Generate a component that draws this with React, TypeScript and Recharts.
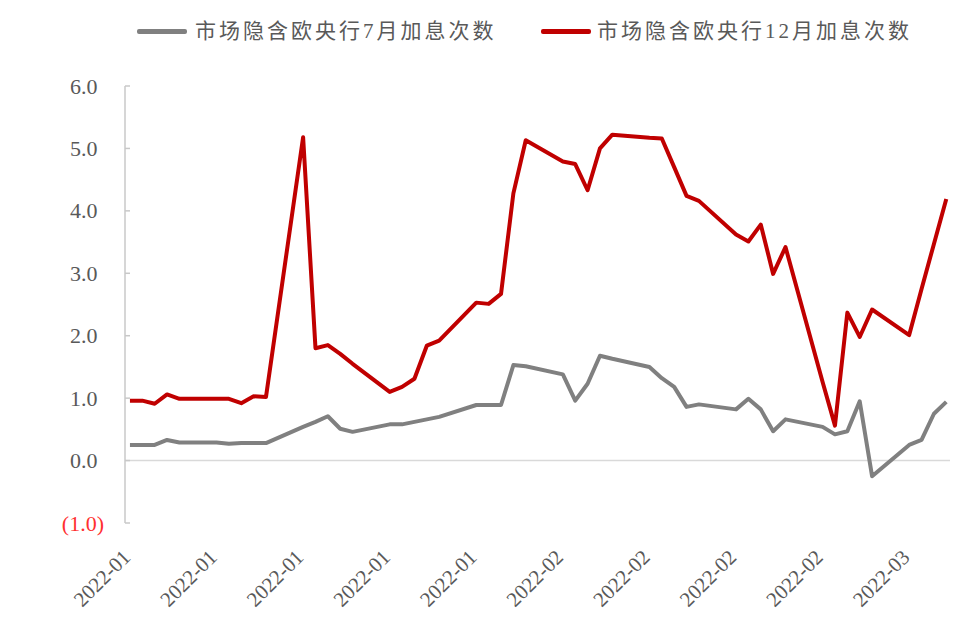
import React from "react";
import { LineChart, Line, XAxis, YAxis, ReferenceLine } from "recharts";

// trading days shown in the chart
const dates = [
  "2022-01-03", "2022-01-04", "2022-01-05", "2022-01-06", "2022-01-07",
  "2022-01-10", "2022-01-11", "2022-01-12", "2022-01-13", "2022-01-14",
  "2022-01-17", "2022-01-18", "2022-01-19", "2022-01-20", "2022-01-21",
  "2022-01-24", "2022-01-25", "2022-01-26", "2022-01-27", "2022-01-28",
  "2022-01-31", "2022-02-01", "2022-02-02", "2022-02-03", "2022-02-04",
  "2022-02-07", "2022-02-08", "2022-02-09", "2022-02-10", "2022-02-11",
  "2022-02-14", "2022-02-15", "2022-02-16", "2022-02-17", "2022-02-18",
  "2022-02-21", "2022-02-22", "2022-02-23", "2022-02-24", "2022-02-25",
  "2022-02-28", "2022-03-01", "2022-03-02", "2022-03-03", "2022-03-04",
  "2022-03-07", "2022-03-08", "2022-03-09", "2022-03-10",
];

const hikesJuly = [
  0.25, 0.25, 0.25, 0.33, 0.29,
  0.29, 0.27, 0.28, 0.28, 0.28,
  0.54, 0.62, 0.71, 0.51, 0.46,
  0.58, 0.58, 0.62, 0.66, 0.7,
  0.89, 0.89, 0.89, 1.53, 1.51,
  1.38, 0.96, 1.23, 1.68, 1.63,
  1.5, 1.32, 1.18, 0.86, 0.9,
  0.82, 0.99, 0.82, 0.47, 0.66,
  0.54, 0.42, 0.47, 0.95, -0.25,
  0.25, 0.33, 0.75, 0.94,
];

const hikesDecember = [
  0.96, 0.96, 0.91, 1.06, 0.99,
  0.99, 0.99, 0.92, 1.03, 1.02,
  5.18, 1.8, 1.85, 1.71, 1.55,
  1.1, 1.18, 1.31, 1.84, 1.92,
  2.53, 2.51, 2.67, 4.28, 5.13,
  4.79, 4.75, 4.33, 5.0, 5.22,
  5.17, 5.16, 4.7, 4.24, 4.16,
  3.62, 3.51, 3.78, 2.99, 3.42,
  1.26, 0.56, 2.37, 1.98, 2.42,
  2.01, 2.75, 3.47, 4.19,
];

const tickDates = [
  "2022-01-03", "2022-01-10", "2022-01-17", "2022-01-24", "2022-01-31",
  "2022-02-07", "2022-02-14", "2022-02-21", "2022-02-28", "2022-03-07",
];

const yTicks = [-1, 0, 1, 2, 3, 4, 5, 6];

const seriesNames = ["市场隐含欧央行7月加息次数", "市场隐含欧央行12月加息次数"];
const seriesColors = ["#808080", "#C00000"];

const DAY_MS = 86400000;
const startMs = Date.parse(dates[0]);
const toDay = (d: string) => Math.round((Date.parse(d) - startMs) / DAY_MS);

const data = dates.map((d, i) => ({
  day: toDay(d),
  jul: hikesJuly[i],
  dec: hikesDecember[i],
}));
const xTicks = tickDates.map(toDay);
const xLabel = new Map(tickDates.map((d) => [toDay(d), d.slice(0, 7)]));

const serif = "'Liberation Serif', 'Times New Roman', serif";

function YTick(props: any) {
  const { x, y, payload } = props;
  const v = payload.value as number;
  const neg = v < 0;
  return (
    <g>
      <line x1={x} x2={x + 5} y1={y} y2={y} stroke="#c8c8c8" strokeWidth={1.5} />
      <text
        x={neg ? x - 21 : x - 27.5}
        y={y}
        dy={7.5}
        textAnchor="end"
        fill={neg ? "#ff3030" : "#595959"}
        fontSize={22}
        fontFamily={serif}
      >
        {neg ? `(${Math.abs(v).toFixed(1)})` : v.toFixed(1)}
      </text>
    </g>
  );
}

function XTick(props: any) {
  const { x, y, payload } = props;
  const px = x + 1.7;
  const py = y + 35.5;
  return (
    <text
      x={px}
      y={py}
      transform={`rotate(-45, ${px}, ${py})`}
      textAnchor="end"
      fill="#595959"
      fontSize={21}
      fontFamily={serif}
    >
      {xLabel.get(payload.value)}
    </text>
  );
}

function LegendItem({ left, swatch, color, name }: any) {
  return (
    <>
      <div
        style={{
          position: "absolute",
          left,
          top: 29,
          width: 50,
          height: 4.5,
          background: color,
          borderRadius: 2,
        }}
      />
      <div
        style={{
          position: "absolute",
          left: swatch,
          top: 17,
          fontSize: 21,
          lineHeight: "28px",
          letterSpacing: 3,
          color: "#595959",
          fontFamily: "'Liberation Serif', 'Noto Sans CJK SC', serif",
          whiteSpace: "nowrap",
        }}
      >
        {name}
      </div>
    </>
  );
}

export default function App() {
  return (
    <div
      style={{
        position: "absolute",
        left: 0,
        top: 0,
        width: 975,
        height: 626,
        background: "#fff",
      }}
    >
      <LegendItem left={137} swatch={195} color={seriesColors[0]} name={seriesNames[0]} />
      <LegendItem left={541} swatch={597} color={seriesColors[1]} name={seriesNames[1]} />
      <LineChart
        width={975}
        height={626}
        data={data}
        margin={{ top: 86, right: 25, bottom: 0, left: 0 }}
      >
        <XAxis
          dataKey="day"
          type="number"
          domain={[-0.4, 66.3]}
          ticks={xTicks}
          interval={0}
          axisLine={false}
          tickLine={false}
          tickSize={0}
          tickMargin={0}
          height={103}
          tick={<XTick />}
          allowDataOverflow
        />
        <YAxis
          type="number"
          domain={[-1, 6]}
          ticks={yTicks}
          interval={0}
          width={125}
          axisLine={{ stroke: "#c8c8c8", strokeWidth: 1.5 }}
          tickLine={false}
          tickSize={0}
          tickMargin={0}
          tick={<YTick />}
        />
        <ReferenceLine y={0} stroke="#d9d9d9" strokeWidth={1.5} />
        <Line
          type="linear"
          dataKey="jul"
          name={seriesNames[0]}
          stroke={seriesColors[0]}
          strokeWidth={4}
          strokeLinejoin="round"
          dot={false}
          isAnimationActive={false}
        />
        <Line
          type="linear"
          dataKey="dec"
          name={seriesNames[1]}
          stroke={seriesColors[1]}
          strokeWidth={4}
          strokeLinejoin="round"
          dot={false}
          isAnimationActive={false}
        />
      </LineChart>
    </div>
  );
}
